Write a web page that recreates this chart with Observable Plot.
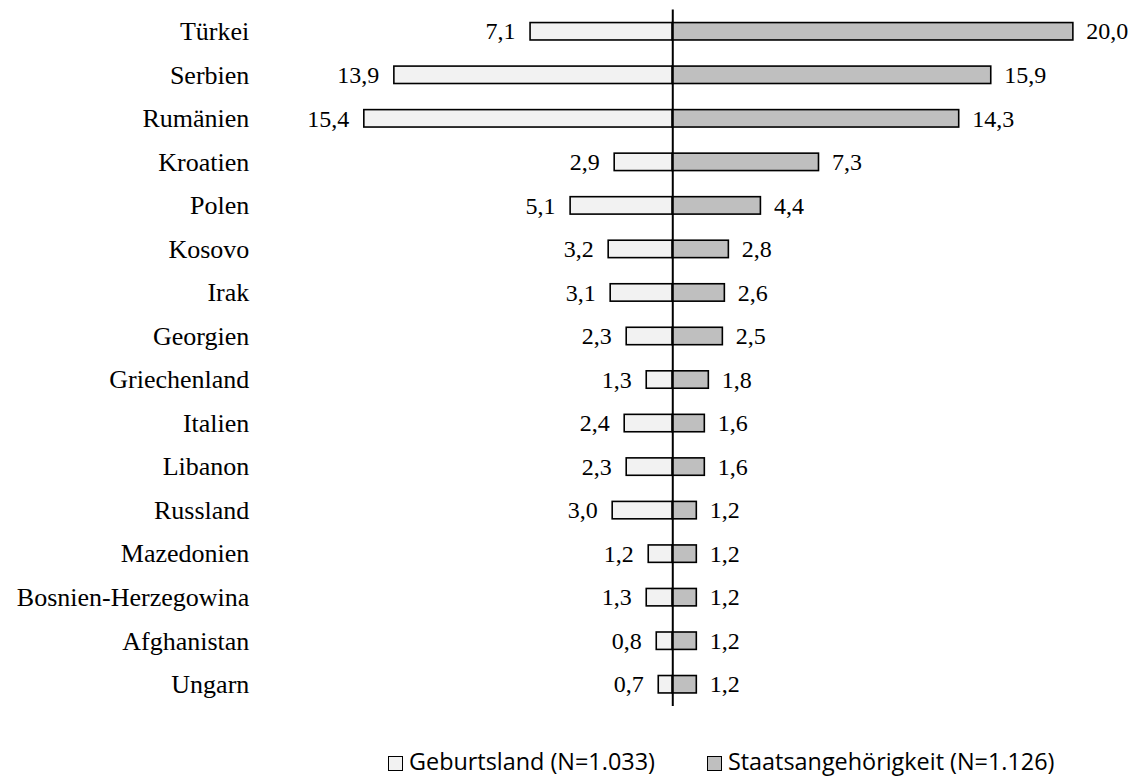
<!DOCTYPE html>
<html>
<head>
<meta charset="utf-8">
<script src="https://cdn.jsdelivr.net/npm/d3@7"></script>
<script src="https://cdn.jsdelivr.net/npm/@observablehq/plot@0.6"></script>
<style>
  html, body { margin: 0; padding: 0; background: #fff; }
  #chart svg { display: block; }
  .legend { position: absolute; top: 746px; left: 388px; display: flex; align-items: center;
    font-family: "Open Sans", sans-serif; font-size: 23.4px; color: #000; line-height: 31px; white-space: nowrap; }
  .legend .item { display: flex; align-items: center; }
  .legend .sw { width: 13px; height: 13px; border: 1px solid #000; margin-right: 6px; margin-top: 3px; }
</style>
</head>
<body>
<div id="chart"></div>
<div class="legend" id="legend"></div>
<script>
const countries = ["Türkei","Serbien","Rumänien","Kroatien","Polen","Kosovo","Irak","Georgien","Griechenland","Italien","Libanon","Russland","Mazedonien","Bosnien-Herzegowina","Afghanistan","Ungarn"];
const geburtsland = [7.1,13.9,15.4,2.9,5.1,3.2,3.1,2.3,1.3,2.4,2.3,3.0,1.2,1.3,0.8,0.7];
const staatsangehoerigkeit = [20.0,15.9,14.3,7.3,4.4,2.8,2.6,2.5,1.8,1.6,1.6,1.2,1.2,1.2,1.2,1.2];
const seriesNames = ["Geburtsland (N=1.033)", "Staatsangehörigkeit (N=1.126)"];
const seriesColors = ["#f2f2f2", "#bfbfbf"];

const rows = countries.map((c, i) => ({country: c, geb: geburtsland[i], sta: staatsangehoerigkeit[i]}));
const fmt = v => v.toFixed(1).replace(".", ",");
const serif = "'Liberation Serif', 'Times New Roman', Times, serif";

const chart = Plot.plot({
  width: 1137,
  height: 712,
  marginTop: 9.5,
  marginBottom: 6,
  marginLeft: 351.8,
  marginRight: 44.1,
  style: {fontFamily: serif, background: "#fff"},
  x: {domain: [-16, 21], axis: null},
  y: {type: "band", domain: countries, paddingInner: 0.6, paddingOuter: 0.3, round: false, label: null},
  marks: [
    Plot.axisY({tickSize: 0, tickPadding: 103, fontSize: 26, fontFamily: serif, label: null, fill: "#000"}),
    Plot.barX(rows, {y: "country", x1: 0, x2: d => -d.geb, fill: seriesColors[0], stroke: "#000", strokeWidth: 1.6}),
    Plot.barX(rows, {y: "country", x1: 0, x2: d => d.sta, fill: seriesColors[1], stroke: "#000", strokeWidth: 1.6}),
    Plot.text(rows, {y: "country", x: d => -d.geb, text: d => fmt(d.geb), textAnchor: "end", dx: -15, fontSize: 24, fontFamily: serif, fill: "#000"}),
    Plot.text(rows, {y: "country", x: d => d.sta, text: d => fmt(d.sta), textAnchor: "start", dx: 13, fontSize: 24, fontFamily: serif, fill: "#000"}),
    Plot.ruleX([0], {stroke: "#000", strokeWidth: 2})
  ]
});
document.getElementById("chart").appendChild(chart);

const legend = document.getElementById("legend");
seriesNames.forEach((name, i) => {
  const item = document.createElement("div");
  item.className = "item";
  if (i > 0) item.style.marginLeft = "52px";
  const sw = document.createElement("div");
  sw.className = "sw";
  sw.style.background = seriesColors[i];
  const t = document.createElement("span");
  t.textContent = name;
  item.appendChild(sw);
  item.appendChild(t);
  legend.appendChild(item);
});
</script>
</body>
</html>
